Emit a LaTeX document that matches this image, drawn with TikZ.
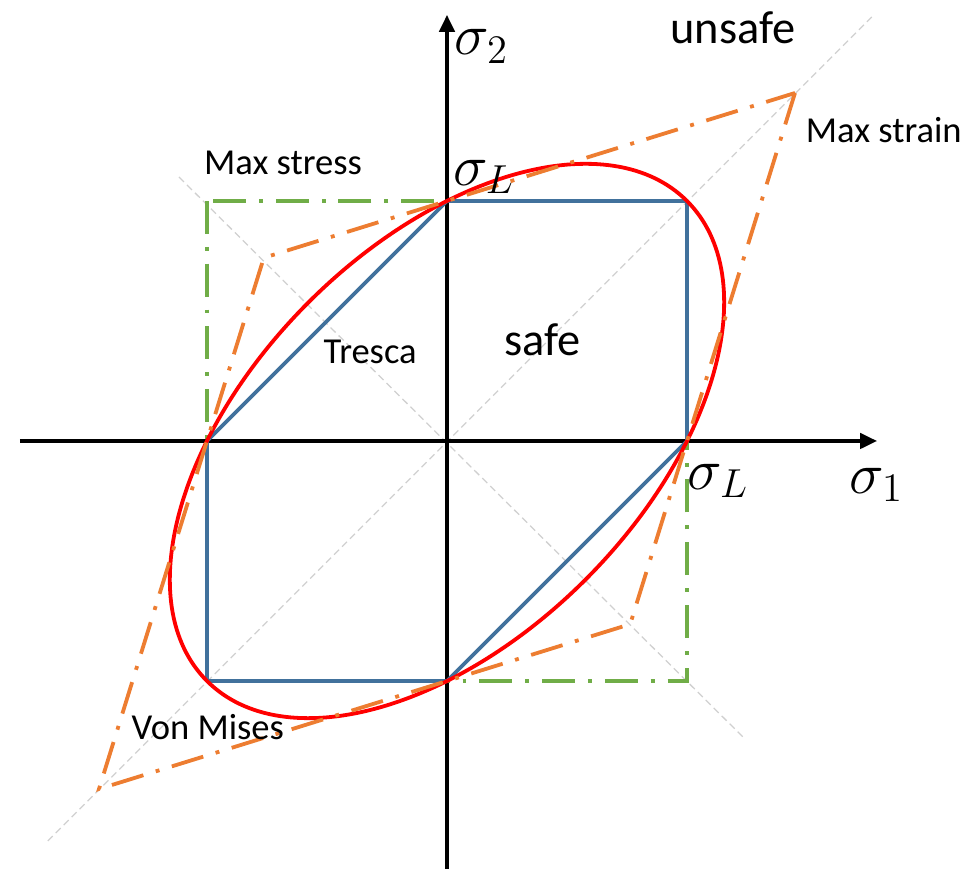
\documentclass[tikz,border=0pt]{standalone}
\usepackage{fontspec}
\setmainfont{Carlito}
\usepackage{tikz}
\usetikzlibrary{arrows.meta}
\definecolor{tresca}{HTML}{41719C}
\definecolor{maxstress}{HTML}{70AD47}
\definecolor{maxstrain}{HTML}{ED7D31}
\definecolor{guide}{HTML}{D0D0D0}

\begin{document}
\begin{tikzpicture}[
    axis/.style={line width=1.1pt,-{Triangle[length=6pt,width=5.5pt]}},
    diag/.style={guide,line width=0.45pt,dash pattern=on 2.5pt off 1.5pt},
    dashdot/.style={line width=1.35pt,dash pattern=on 11.7pt off 4.6pt on 1.4pt off 4.6pt},
    crit/.style={line width=1.35pt,line join=round},
    lbl/.style={font=\fontsize{13}{15}\selectfont},
    big/.style={font=\fontsize{16.5}{19}\selectfont},
    sym/.style={font=\fontsize{20}{22}\selectfont}
  ]
    \useasboundingbox (-5.5875,-5.35) rectangle (6.525,5.5125);
    % yield limit and points of the criteria
    \def\sL{3}
    \coordinate (O) at (0,0);
    \coordinate (P1) at (\sL,0);
    \coordinate (P2) at (0,\sL);
    \coordinate (N1) at (-\sL,0);
    \coordinate (N2) at (0,-\sL);
    \coordinate (PP) at (\sL,\sL);
    \coordinate (NN) at (-\sL,-\sL);
    \coordinate (sA) at (4.35,4.35);
    \coordinate (sB) at (2.29,-2.29);
    \coordinate (sC) at (-4.35,-4.35);
    \coordinate (sD) at (-2.29,2.29);
    % guide lines
    \coordinate (dg1) at (-4.99,-5.0);
    \coordinate (dg2) at (5.31,5.3);
    \coordinate (ad1) at (-3.35,3.3);
    \coordinate (ad2) at (3.72,-3.72);
    \draw[diag] (dg1) -- (dg2);
    \draw[diag] (ad1) -- (ad2);
    % axes
    \coordinate (xs) at (-5.34,0);
    \coordinate (xe) at (5.375,0);
    \coordinate (ys) at (0,-5.4);
    \coordinate (ye) at (0,5.325);
    \draw[axis] (xs) -- (xe);
    \draw[axis] (ys) -- (ye);
    % max stress
    \draw[dashdot,maxstress] (-\sL,\sL) rectangle (\sL,-\sL);
    % tresca
    \draw[crit,tresca] (P2) -- (PP) -- (P1) -- (N2) -- (NN) -- (N1) -- cycle;
    % von mises
    \draw[crit,red] (O) ellipse[x radius={sqrt(2)*\sL},y radius={sqrt(2/3)*\sL},rotate=45];
    % max strain
    \draw[dashdot,maxstrain] (sA) -- (sB) -- (sC) -- (sD) -- cycle;
    % labels
    \node[big] (unsafe) at (3.575,5.16) {unsafe};
    \node[big] (safe) at (1.19,1.26) {safe};
    \node[lbl] (mstrain) at (5.46,3.89) {Max strain};
    \node[lbl] (mstress) at (-2.05,3.48) {Max stress};
    \node[lbl] (tr) at (-0.96,1.11) {Tresca};
    \node[lbl] (vm) at (-2.99,-3.58) {Von Mises};
    \node[sym] (s2) at (0.43,4.93) {$\sigma_2$};
    \node[sym] (s1) at (5.37,-0.55) {$\sigma_1$};
    \node[sym] (sLy) at (0.46,3.3) {$\sigma_L$};
    \node[sym] (sLx) at (3.39,-0.5) {$\sigma_L$};
  \end{tikzpicture}
\end{document}
